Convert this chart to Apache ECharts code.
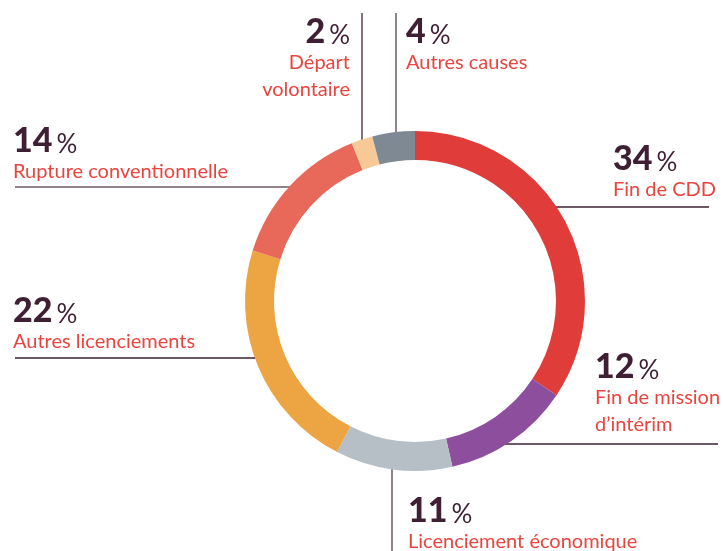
<!DOCTYPE html>
<html><head><meta charset="utf-8">
<script src="https://cdn.jsdelivr.net/npm/echarts@6/dist/echarts.min.js"></script>
<style>html,body{margin:0;padding:0;background:#fff}#c{width:723px;height:551px}</style>
</head><body><div id="c"></div>
<script>
const categories = ['Fin de CDD', 'Fin de mission\nd’intérim', 'Licenciement économique', 'Autres licenciements', 'Rupture conventionnelle', 'Départ\nvolontaire', 'Autres causes'];
const values = [34, 12, 11, 22, 14, 2, 4];
const colors = ['#E03C3A', '#8E4E9E', '#B6BFC6', '#EDA443', '#E8685A', '#F6C996', '#7E8993'];

// annotation layout: [x, y(top of block), align]
const labelLayout = [
  [613, 146, 'left'],
  [595, 354, 'left'],
  [408, 498, 'left'],
  [13, 298, 'left'],
  [13, 128, 'left'],
  [350, 19, 'right'],
  [406, 19, 'left']
];
// leader lines [x1,y1,x2,y2,colour]
const leaders = [
  [552, 207, 709, 207, '#3E1F33'],
  [501, 444, 718, 444, '#3E1F33'],
  [392, 464, 392, 551, '#6E5865'],
  [15, 358, 261, 358, '#3E1F33'],
  [15, 187, 297, 187, '#6E5865'],
  [362, 13, 362, 142, '#5A4050'],
  [396, 13, 396, 137, '#6E5865']
];

const FONT = 'Lato';
const chart = echarts.init(document.getElementById('c'), null, {renderer: 'canvas'});
const graphics = [];
categories.forEach((cat, i) => {
  const [x, y, align] = labelLayout[i];
  graphics.push({
    type: 'text', x: x, y: y, silent: true,
    style: {
      text: '{n|' + values[i] + '}{p|%}\n' + cat.split('\n').map(s => '{l|' + s + '}').join('\n'),
      align: align, verticalAlign: 'top',
      rich: {
        n: {fontFamily: FONT, fontWeight: 900, fontSize: 34, fill: '#3E1F33', lineHeight: 30, verticalAlign: 'bottom'},
        p: {fontFamily: FONT, fontWeight: 'normal', fontSize: 26, fill: '#3E1F33', lineHeight: 30, verticalAlign: 'bottom', padding: [0, 0, 0, 4]},
        l: {fontFamily: FONT, fontSize: 20, fill: '#E8453F', lineHeight: 27}
      }
    }
  });
});
leaders.forEach(l => {
  graphics.push({type: 'line', silent: true, shape: {x1: l[0], y1: l[1], x2: l[2], y2: l[3]},
    style: {stroke: l[4], lineWidth: 1.5}});
});

chart.setOption({
  animation: false,
  series: [{
    type: 'pie',
    center: [415, 301],
    radius: [141, 170],
    startAngle: 90,
    clockwise: true,
    silent: true,
    label: {show: false},
    labelLine: {show: false},
    data: categories.map((c, i) => ({name: c, value: values[i], itemStyle: {color: colors[i]}}))
  }],
  graphic: graphics
});
</script></body></html>
